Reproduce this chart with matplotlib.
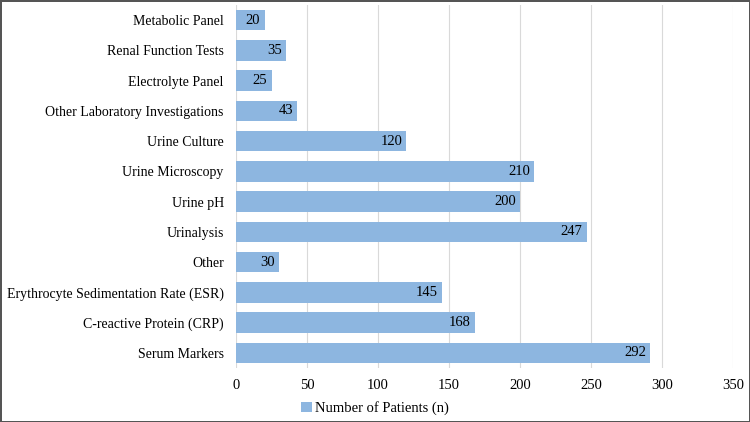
import matplotlib.pyplot as plt

# data (top to bottom as shown)
categories = ["Metabolic Panel", "Renal Function Tests", "Electrolyte Panel",
              "Other Laboratory Investigations", "Urine Culture", "Urine Microscopy",
              "Urine pH", "Urinalysis", "Other", "Erythrocyte Sedimentation Rate (ESR)",
              "C-reactive Protein (CRP)", "Serum Markers"]
patients = [20, 35, 25, 43, 120, 210, 200, 247, 30, 145, 168, 292]
x_ticks = [0, 50, 100, 150, 200, 250, 300, 350]

plt.rcParams['font.family'] = ['Liberation Serif', 'DejaVu Serif']

fig = plt.figure(figsize=(7.5, 4.22), dpi=100)
fig.patch.set_edgecolor('#555555')
fig.patch.set_linewidth(2)
ax = fig.add_axes([0.315, 0.128, 0.662, 0.86])

ypos = list(range(len(categories)))
bars = ax.barh(ypos, patients, height=0.68, color='#8db6e0', label='Number of Patients (n)', zorder=2)
for b, v in zip(bars, patients):
    ax.text(b.get_width() - 3, b.get_y() + b.get_height() / 2, str(v),
            ha='right', va='center', fontsize=10.5, color='black', zorder=3)

ax.set_yticks(ypos)
ax.set_yticklabels(categories, fontsize=10)
ax.set_ylim(len(categories) - 0.5, -0.5)
ax.set_xlim(0, 350)
ax.set_xticks(x_ticks)
ax.tick_params(axis='x', labelsize=10.5, length=0, pad=8)
ax.tick_params(axis='y', length=0, pad=9)
ax.grid(axis='x', color='#d9d9d9', linewidth=0.8, zorder=0)
for s in ax.spines.values():
    s.set_visible(False)

fig.legend(loc='center', bbox_to_anchor=(0.5, 0.032), frameon=False,
           fontsize=10.5, handlelength=0.7, handleheight=0.7, handletextpad=0.2,
           bbox_transform=fig.transFigure)

fig.savefig('out.png', dpi=100, edgecolor=fig.get_edgecolor())
